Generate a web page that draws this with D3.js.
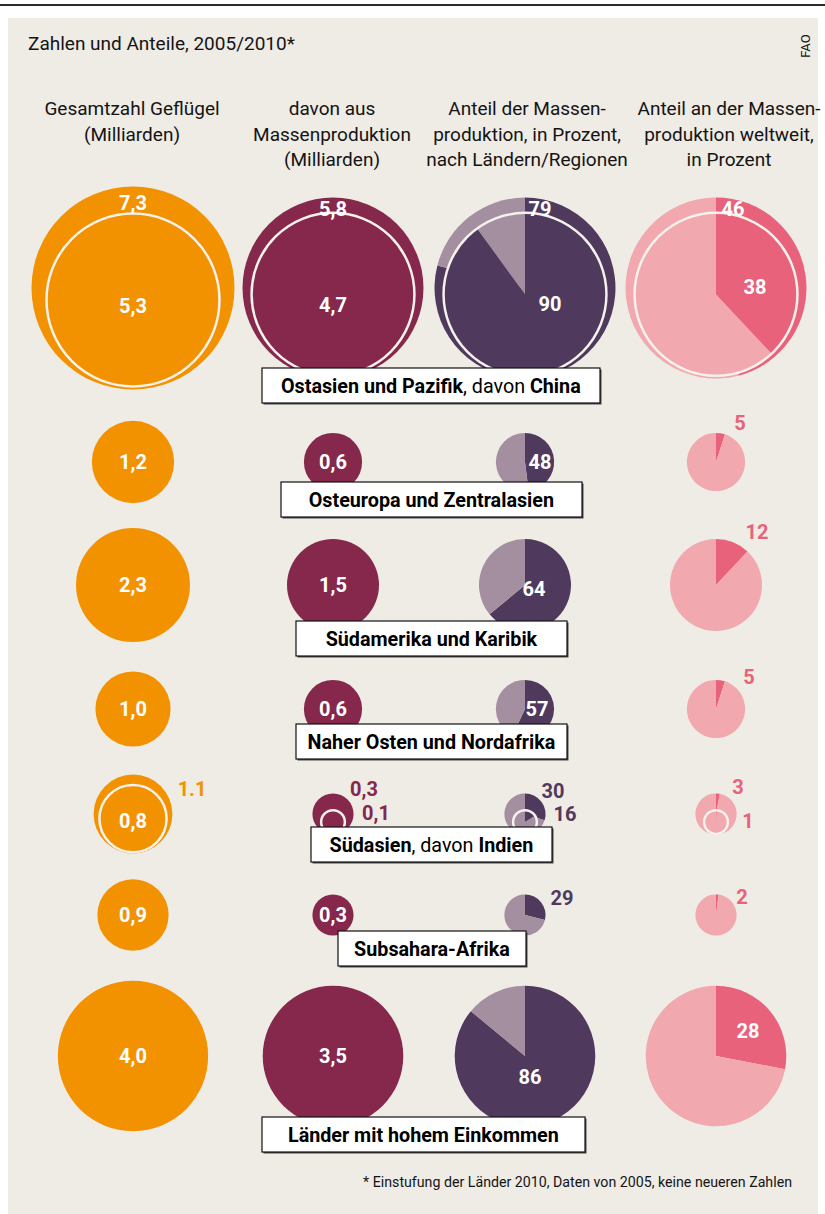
<!DOCTYPE html>
<html>
<head>
<meta charset="utf-8">
<script src="https://cdn.jsdelivr.net/npm/d3@7"></script>
<style>
  html, body { margin: 0; padding: 0; background: #ffffff; }
  svg { display: block; }
</style>
</head>
<body>
<svg id="chart" width="825" height="1214"></svg>
<script>
// ---- Data: poultry numbers and shares of mass production, 2005/2010 (FAO) ----
const regions = [
  "Ostasien und Pazifik",
  "Osteuropa und Zentralasien",
  "Südamerika und Karibik",
  "Naher Osten und Nordafrika",
  "Südasien",
  "Subsahara-Afrika",
  "Länder mit hohem Einkommen"
];
const subRegions = ["China", null, null, null, "Indien", null, null];

// Total poultry (billions) and the country in brackets
const totalPoultry      = [7.3, 1.2, 2.3, 1.0, 1.1, 0.9, 4.0];
const totalPoultryLabels = ["7,3", "1,2", "2,3", "1,0", "1.1", "0,9", "4,0"];
const totalPoultrySub   = [5.3, null, null, null, 0.8, null, null];

// Of which from mass production (billions)
const massProduction    = [5.8, 0.6, 1.5, 0.6, 0.3, 0.3, 3.5];
const massProductionSub = [4.7, null, null, null, 0.1, null, null];

// Share of mass production within the region (percent)
const regionalShare     = [79, 48, 64, 57, 30, 29, 86];
const regionalShareSub  = [90, null, null, null, 16, null, null];

// Share of worldwide mass production (percent)
const globalShare       = [46, 5, 12, 5, 3, 2, 28];
const globalShareSub    = [38, null, null, null, 1, null, null];

const headers = [
  ["Gesamtzahl Geflügel", "(Milliarden)"],
  ["davon aus", "Massenproduktion", "(Milliarden)"],
  ["Anteil der Massen-", "produktion, in Prozent,", "nach Ländern/Regionen"],
  ["Anteil an der Massen-", "produktion weltweit,", "in Prozent"]
];
const titleText = "Zahlen und Anteile, 2005/2010*";
const sourceText = "FAO";
const footnoteText = "* Einstufung der Länder 2010, Daten von 2005, keine neueren Zahlen";

// ---- Styling ----
const C = {
  bg: "#efebe5",
  orange: "#f39200",
  wine: "#85284b",
  purple: "#4f3a5e",
  purpleLight: "#a38fa0",
  pink: "#e8627b",
  pinkLight: "#f1a8ae",
  ring: "#f5f1eb",
  ink: "#141414"
};
const numFont = "Roboto, 'Open Sans', sans-serif";
const txtFont = "Roboto, 'Liberation Sans', sans-serif";

// ---- Layout ----
const W = 825, H = 1214;
const colX = [133, 333, 525, 716];
const headerX = [132, 332, 527, 729];
const rowY = [288, 462, 585, 709, 814, 915, 1056];
const boxTop = [368, 482, 621, 724, 827, 931, 1117];
const boxCX = [431, 431.5, 431.5, 431.5, 431.5, 432, 423.5];
const boxW = [338, 301, 271, 271, 241, 188, 323];

// label placement relative to the circle centre; out = drawn outside in column colour
const P = (dx, dy, out = false) => ({dx, dy, out});
const labelLayout = [
  [[P(0,-85), P(0,18)], [P(0,-79), P(0,17)], [P(15,-79), P(25,16)], [P(17,-79), P(39,-1)]],
  [[P(0,0)], [P(0,0)], [P(15,0)], [P(24,-39,true)]],
  [[P(0,0)], [P(0,0)], [P(9,4)], [P(41,-53,true)]],
  [[P(0,0)], [P(0,0)], [P(12,0)], [P(33,-32,true)]],
  [[P(59,-25,true), P(0,7)], [P(31,-25,true), P(43,-1,true)], [P(28,-23,true), P(40,0,true)], [P(22,-27,true), P(32,7,true)]],
  [[P(0,0)], [P(0,0)], [P(37,-17,true)], [P(26,-18,true)]],
  [[P(0,0)], [P(0,0)], [P(5,21)], [P(32,-25)]]
];

// area-true radius scale shared by all circles and pies
const r = d3.scaleSqrt().domain([0, 7.3]).range([0, 101.5]);
const fmtBn = v => d3.format(".1f")(v).replace(".", ",");

const svg = d3.select("#chart");

// frame
svg.append("rect").attr("x", 0).attr("y", 0).attr("width", W).attr("height", H).attr("fill", "#ffffff");
svg.append("rect").attr("x", 0).attr("y", 4).attr("width", W).attr("height", 2).attr("fill", "#2b2b2b");
svg.append("rect").attr("x", 8).attr("y", 18).attr("width", 810).attr("height", H - 18).attr("fill", C.bg);

// title and source
svg.append("text").attr("x", 28).attr("y", 50)
  .attr("font-family", txtFont).attr("font-size", 19).attr("fill", C.ink)
  .text(titleText);
svg.append("text").attr("transform", "translate(810,46) rotate(-90)")
  .attr("text-anchor", "middle").attr("font-family", txtFont).attr("font-size", 13).attr("fill", C.ink)
  .text(sourceText);

// column headers
headers.forEach((lines, c) => {
  const t = svg.append("text").attr("font-family", txtFont).attr("font-size", 19)
    .attr("fill", C.ink).attr("text-anchor", "middle");
  lines.forEach((ln, i) => {
    t.append("tspan").attr("x", headerX[c]).attr("y", 115 + i * 25.5).text(ln);
  });
});

const marks = svg.append("g");
const labels = svg.append("g");

function nestedY(cy, ro, ri) { return cy + ro - ri - ro * 0.03; }

function circles(cx, cy, vo, vi, color) {
  const ro = r(vo);
  marks.append("circle").attr("cx", cx).attr("cy", cy).attr("r", ro).attr("fill", color);
  if (vi != null) {
    const ri = r(vi);
    marks.append("circle").attr("cx", cx).attr("cy", nestedY(cy, ro, ri)).attr("r", ri)
      .attr("fill", color).attr("stroke", C.ring).attr("stroke-width", 2.5);
  }
}

const pieGen = d3.pie().sort(null).value(d => d);
function pieAt(cx, cy, radius, pct, dark, light) {
  const arcGen = d3.arc().innerRadius(0).outerRadius(radius);
  const g = marks.append("g").attr("transform", `translate(${cx},${cy})`);
  g.selectAll("path").data(pieGen([pct, 100 - pct])).join("path")
    .attr("d", arcGen).attr("fill", (d, i) => i === 0 ? dark : light);
  return g;
}
function pies(cx, cy, ro, ri, po, pi, dark, light) {
  pieAt(cx, cy, ro, po, dark, light);
  if (pi != null) {
    const icy = nestedY(cy, ro, ri);
    pieAt(cx, icy, ri, pi, dark, light);
    marks.append("circle").attr("cx", cx).attr("cy", icy).attr("r", ri)
      .attr("fill", "none").attr("stroke", C.ring).attr("stroke-width", 2.5);
  }
}

function valueLabel(cx, cy, spec, text, color) {
  labels.append("text")
    .attr("x", cx + spec.dx).attr("y", cy + spec.dy)
    .attr("dy", "0.36em")
    .attr("text-anchor", "middle")
    .attr("font-family", numFont).attr("font-weight", 700).attr("font-size", 20)
    .attr("fill", spec.out ? color : "#ffffff")
    .text(text);
}

regions.forEach((name, i) => {
  const cy = rowY[i];
  const rm = r(massProduction[i]);
  const rms = massProductionSub[i] != null ? r(massProductionSub[i]) : null;

  circles(colX[0], cy, totalPoultry[i], totalPoultrySub[i], C.orange);
  circles(colX[1], cy, massProduction[i], massProductionSub[i], C.wine);
  pies(colX[2], cy, rm, rms, regionalShare[i], regionalShareSub[i], C.purple, C.purpleLight);
  pies(colX[3], cy, rm, rms, globalShare[i], globalShareSub[i], C.pink, C.pinkLight);

  const L = labelLayout[i];
  valueLabel(colX[0], cy, L[0][0], totalPoultryLabels[i], C.orange);
  valueLabel(colX[1], cy, L[1][0], fmtBn(massProduction[i]), C.wine);
  valueLabel(colX[2], cy, L[2][0], String(regionalShare[i]), C.purple);
  valueLabel(colX[3], cy, L[3][0], String(globalShare[i]), C.pink);
  if (totalPoultrySub[i] != null) {
    valueLabel(colX[0], cy, L[0][1], fmtBn(totalPoultrySub[i]), C.orange);
    valueLabel(colX[1], cy, L[1][1], fmtBn(massProductionSub[i]), C.wine);
    valueLabel(colX[2], cy, L[2][1], String(regionalShareSub[i]), C.purple);
    valueLabel(colX[3], cy, L[3][1], String(globalShareSub[i]), C.pink);
  }
});

// region name boxes
const boxes = svg.append("g");
const squeeze = 0.94;
regions.forEach((name, i) => {
  const g = boxes.append("g");
  const t = g.append("text")
    .attr("text-anchor", "start")
    .attr("font-family", txtFont).attr("font-size", 21).attr("fill", "#000");
  t.append("tspan").attr("font-weight", 700).text(name);
  if (subRegions[i]) {
    t.append("tspan").attr("font-weight", 400).text(", davon ");
    t.append("tspan").attr("font-weight", 700).text(subRegions[i]);
  }
  const tw = t.node().getComputedTextLength() * squeeze;
  const bw = boxW[i], bh = 35;
  const x0 = boxCX[i] - bw / 2, y0 = boxTop[i];
  g.insert("rect", "text").attr("x", x0 + 1.5).attr("y", y0 + 1.5).attr("width", bw).attr("height", bh).attr("fill", "#4a4a4a");
  g.insert("rect", "text").attr("x", x0).attr("y", y0).attr("width", bw).attr("height", bh)
    .attr("fill", "#ffffff").attr("stroke", "#111").attr("stroke-width", 1.2);
  t.attr("transform", `translate(${boxCX[i] - tw / 2},${y0 + bh / 2 + 7.5}) scale(${squeeze},1)`);
});

// footnote
svg.append("text").attr("x", 792).attr("y", 1187)
  .attr("text-anchor", "end").attr("font-family", txtFont).attr("font-size", 14.2).attr("fill", C.ink)
  .text(footnoteText);
</script>
</body>
</html>
